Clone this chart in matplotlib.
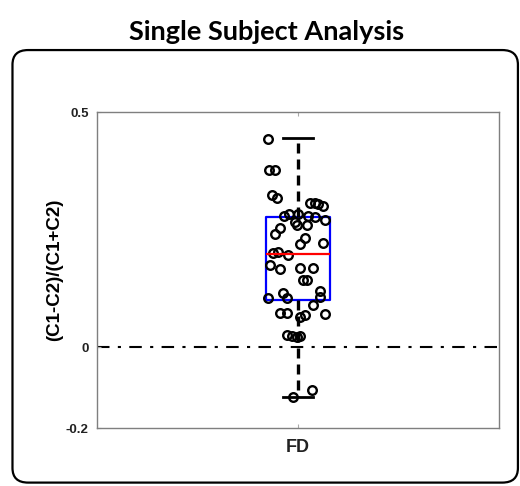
import numpy as np
import matplotlib.pyplot as plt
from matplotlib.patches import FancyBboxPatch
from matplotlib.font_manager import FontProperties

# data
category = 'FD'
box_q1 = 0.100
box_median = 0.198
box_q3 = 0.277
whisker_low = -0.106
whisker_high = 0.445

# scattered subjects (x jitter around the box centre, y value)
jitter_x = [-0.075, -0.072, -0.057, -0.065, -0.052, 0.030, 0.042, 0.050, 0.062,
            -0.035, -0.022, 0.000, 0.025, 0.042, 0.067, -0.007, -0.002, 0.022,
            -0.045, -0.057, 0.017, 0.005, 0.062, -0.062, -0.050, -0.025, -0.070,
            -0.045, 0.005, 0.037, 0.012, 0.022, -0.037, -0.027, 0.055, 0.055,
            -0.075, -0.045, -0.027, 0.037, 0.067, 0.005, 0.017, -0.027, -0.015,
            0.005, -0.002, -0.012, 0.035]
values = [0.443, 0.377, 0.377, 0.323, 0.317, 0.306, 0.306, 0.304, 0.300,
          0.279, 0.283, 0.283, 0.279, 0.277, 0.270, 0.266, 0.260, 0.260,
          0.253, 0.240, 0.232, 0.219, 0.221, 0.200, 0.202, 0.196, 0.174,
          0.166, 0.168, 0.168, 0.143, 0.143, 0.115, 0.104, 0.119, 0.106,
          0.104, 0.072, 0.072, 0.089, 0.070, 0.064, 0.068, 0.026, 0.023,
          0.023, 0.021, -0.106, -0.091]

ylim = (-0.172, 0.5)
ytick_pos = [-0.172, 0, 0.5]
ytick_labels = ['-0.2', '0', '0.5']

def bold(size):
    return FontProperties(family='Liberation Sans', weight='bold', size=size)

fig = plt.figure(figsize=(5.2, 4.86), dpi=100)

# rounded frame around the panel
frame = FancyBboxPatch((0.024, 0.007), 0.972, 0.89, boxstyle='round,pad=0,rounding_size=0.03',
                       transform=fig.transFigure, fill=False, edgecolor='black', linewidth=1.6)
fig.patches.append(frame)
fig.text(0.513, 0.935, 'Single Subject Analysis', ha='center', va='center',
         fontsize=19.5, fontweight='bold', family='Lato')

ax = fig.add_axes([0.1865, 0.1193, 0.773, 0.6502])

stats = [dict(med=box_median, q1=box_q1, q3=box_q3, whislo=whisker_low,
              whishi=whisker_high, fliers=[], label=category)]
ax.bxp(stats, positions=[1], widths=0.157, capwidths=0.075, showfliers=False,
       boxprops=dict(color='blue', linewidth=1.6),
       medianprops=dict(color='red', linewidth=1.6),
       whiskerprops=dict(color='black', linewidth=2.4, linestyle=(0, (3, 1.8))),
       capprops=dict(color='black', linewidth=2))

ax.axhline(0, color='black', linewidth=1.5, linestyle=(0, (6, 4, 1.5, 4)), zorder=1)

ax.plot(1 + np.array(jitter_x), values, 'o', mfc='none', mec='black', ms=6.2, mew=1.7)

ax.set_xlim(0.5, 1.5)
ax.set_ylim(*ylim)
ax.set_yticks(ytick_pos)
ax.set_yticklabels(ytick_labels, fontproperties=bold(9.5), color='#222222')
ax.set_xticks([1])
ax.set_xticklabels([category], fontproperties=bold(13), color='#222222')
ax.set_ylabel('(C1-C2)/(C1+C2)', fontproperties=bold(13.5), labelpad=2)
ax.tick_params(axis='both', direction='in', length=3, color='#aaaaaa', top=True)
ax.tick_params(axis='x', pad=8)
ax.tick_params(axis='y', pad=6)
for s in ax.spines.values():
    s.set_color('#7f7f7f')
    s.set_linewidth(1)

fig.savefig('out.png', dpi=100)
